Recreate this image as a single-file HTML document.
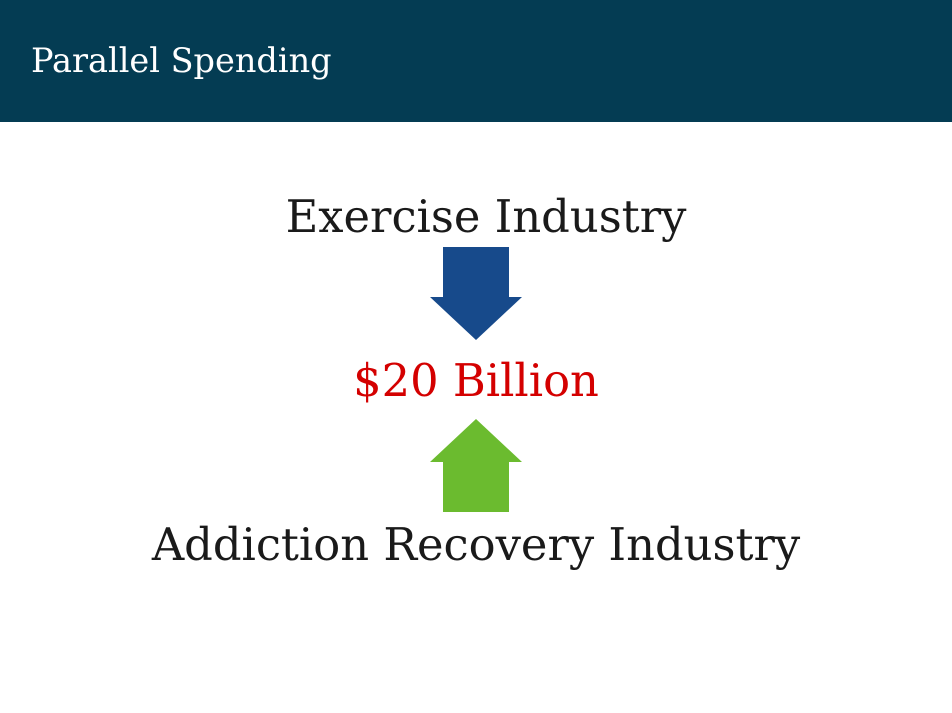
<!DOCTYPE html>
<html>
<head>
<meta charset="utf-8">
<style>
  html,body{margin:0;padding:0;width:952px;height:713px;overflow:hidden;background:#fff;}
  svg{display:block;}
  text{font-family:"DejaVu Serif","Liberation Serif",serif;}
</style>
</head>
<body>
<svg width="952" height="713" viewBox="0 0 952 713">
  <rect x="0" y="0" width="952" height="122" fill="#043c53"/>
  <text x="31" y="72" font-size="33.5" fill="#ffffff">Parallel Spending</text>

  <text x="486" y="232" font-size="44.8" fill="#1a1a1a" text-anchor="middle">Exercise Industry</text>
  <polygon points="443,247 509,247 509,297 522,297 476,340 430,297 443,297" fill="#174a8b"/>

  <text x="476" y="396" font-size="44.8" fill="#d40000" text-anchor="middle">$20 Billion</text>

  <polygon points="476,419 522,462 509,462 509,512 443,512 443,462 430,462" fill="#6bbb2f"/>
  <text x="476" y="560" font-size="44.8" fill="#1a1a1a" text-anchor="middle">Addiction Recovery Industry</text>
</svg>
</body>
</html>
